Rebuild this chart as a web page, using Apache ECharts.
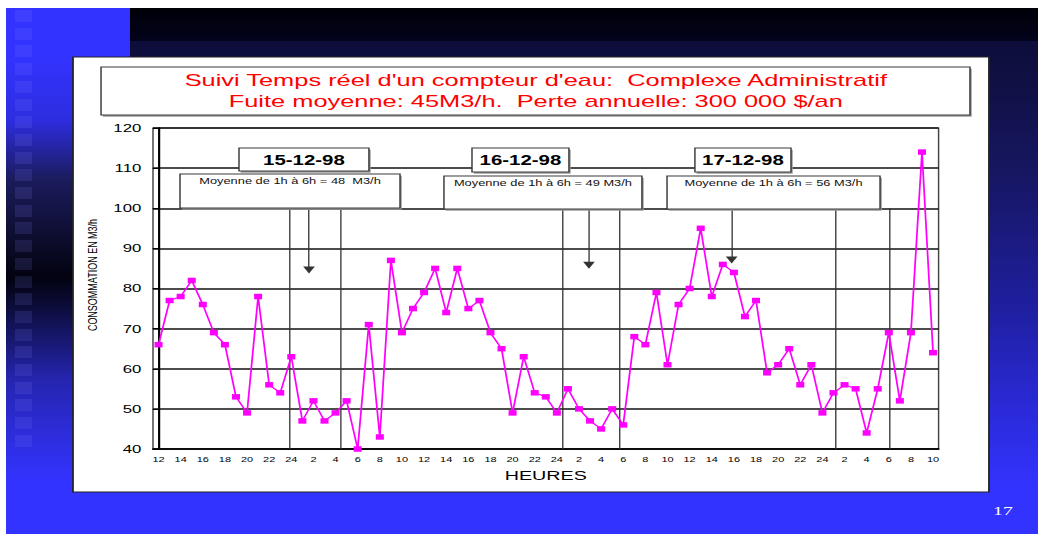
<!DOCTYPE html>
<html>
<head>
<meta charset="utf-8">
<script src="https://cdn.jsdelivr.net/npm/echarts@6/dist/echarts.min.js"></script>
<style>
  html, body { margin: 0; padding: 0; background: #fff; }
  body { width: 1038px; height: 534px; position: relative; overflow: hidden; }
  .bg { position: absolute; }
  #slide { left: 6px; top: 8px; width: 1032px; height: 526px;
    background: linear-gradient(180deg, #0c0c36 0px, #0f0f40 60px, #161660 160px, #1f1fa0 300px, #2a2ad8 400px, #3333ff 480px); }
  #topband { left: 130px; top: 8px; right: 0; height: 33px; background: linear-gradient(180deg, #000008, #03031c); }
  #corner { left: 6px; top: 8px; width: 124px; height: 49px; background: #3333ff; }
  #leftstrip { left: 6px; top: 57px; width: 67px; bottom: 0;
    background: linear-gradient(180deg, #3333ff 0px, #2d2de0 63px, #1b1b5c 123px, #0a0a25 193px, #020210 220px, #0a0a30 243px, #2525b0 323px, #3333ff 423px); }
  #squares { left: 15px; top: 10px; width: 17px; height: 440px;
    background: repeating-linear-gradient(180deg, rgba(130,130,255,0.14) 0 12px, rgba(0,0,0,0) 12px 17.7px); }
  #chart { position: absolute; left: 0; top: 0; width: 711px; height: 534px;
    transform: scaleX(1.45992); transform-origin: 0 0; }
</style>
</head>
<body>
<div class="bg" id="slide"></div>
<div class="bg" id="topband"></div>
<div class="bg" id="corner"></div>
<div class="bg" id="leftstrip"></div>
<div class="bg" id="squares"></div>
<div id="chart"></div>
<script>
// hour of day for each reading (12h on 15-12 to 10h on 18-12)
const hours = [12, 13, 14, 15, 16, 17, 18, 19, 20, 21, 22, 23, 24,
  1, 2, 3, 4, 5, 6, 7, 8, 9, 10, 11, 12, 13, 14, 15, 16, 17, 18, 19, 20, 21, 22, 23, 24,
  1, 2, 3, 4, 5, 6, 7, 8, 9, 10, 11, 12, 13, 14, 15, 16, 17, 18, 19, 20, 21, 22, 23, 24,
  1, 2, 3, 4, 5, 6, 7, 8, 9, 10]

// consommation m3/h
const day15 = [66, 77, 78, 82, 76, 69, 66, 53, 49, 78, 56, 54, 63]
const day16 = [47, 52, 47, 49, 52, 40, 71, 43, 87, 69, 75, 79, 85, 74, 85, 75, 77, 69, 65, 49, 63, 54, 53, 49]
const day17 = [55, 50, 47, 45, 50, 46, 68, 66, 79, 61, 76, 80, 95, 78, 86, 84, 73, 77, 59, 61, 65, 56, 61, 49]
const day18 = [54, 56, 55, 44, 55, 69, 52, 69, 114, 64]
const consommation = [...day15, ...day16, ...day17, ...day18]

const yMin = 40
const yMax = 120
const yStep = 10

const titleLines = [
  "Suivi Temps réel d'un compteur d'eau:  Complexe Administratif",
  "Fuite moyenne: 45M3/h.  Perte annuelle: 300 000 $/an"
]
const yName = 'CONSOMMATION EN M3/h'
const dates = ['15-12-98', '16-12-98', '17-12-98']
const moyenneLabels = [
  'Moyenne de 1h à 6h = 48  M3/h',
  'Moyenne de 1h à 6h = 49 M3/h',
  'Moyenne de 1h à 6h = 56 M3/h'
]
// night window markers, as position on the hour index
const nightStart = [11.8, 36.5, 61.2]
const nightEnd = [16.4, 41.6, 66.0]
const arrowAt = [13.6, 38.9, 51.8]
const arrowTip = [83.7, 84.9, 86.2]

// box layout (px, before horizontal stretch)
const dateBoxes = [[163.7, 148, 89, 23], [323.3, 148, 66.4, 24], [476, 148, 65.8, 24]]
const moyBoxes = [[123.3, 174, 150.7, 34], [304.1, 176, 135.6, 33], [456.9, 176, 145.9, 33]]

const FONT = '"Liberation Sans", Arial, sans-serif'

function box(x, y, w, h, z) {
  return [{
    type: 'rect', z: z, silent: true,
    shape: { x: x + 1.2, y: y + 1.8, width: w, height: h },
    style: { fill: '#9a9a9a' }
  }, {
    type: 'rect', z: z + 1, silent: true,
    shape: { x: x, y: y, width: w, height: h },
    style: { fill: '#fff', stroke: '#3a3a3a', lineWidth: 1 }
  }]
}

const elements = [
  { type: 'rect', z: -10, silent: true, shape: { x: 50, y: 57, width: 627.4, height: 435 },
    style: { fill: '#fff', stroke: '#222', lineWidth: 1.2 } },
  ...box(69.2, 67, 595.2, 48, 10),
  ...titleLines.map((t, i) => ({
    type: 'text', z: 12, x: 367, y: 80.5 + i * 20.5, silent: true,
    style: { text: t, fill: '#ff0000', font: '17.4px ' + FONT, align: 'center', verticalAlign: 'middle' }
  })),
  {
    type: 'text', z: 12, x: 63, y: 275, rotation: Math.PI / 2, silent: true,
    style: { text: yName, fill: '#000', font: '9px ' + FONT, align: 'center', verticalAlign: 'middle' }
  },
  {
    type: 'text', z: 12, x: 687, y: 511, silent: true,
    style: { text: '17', fill: '#fff', font: '13.5px "Liberation Serif", serif', align: 'center', verticalAlign: 'middle' }
  }
]
dates.forEach((d, i) => {
  const [x, y, w, h] = dateBoxes[i]
  elements.push(...box(x, y, w, h, 20))
  elements.push({ type: 'text', z: 22, x: x + w / 2, y: y + h / 2 + 0.5, silent: true,
    style: { text: d, fill: '#000', font: 'bold 14px ' + FONT, align: 'center', verticalAlign: 'middle' } })
})
moyenneLabels.forEach((t, i) => {
  const [x, y, w, h] = moyBoxes[i]
  elements.push(...box(x, y, w, h, 20))
  elements.push({ type: 'text', z: 22, x: x + w / 2, y: y + 7, silent: true,
    style: { text: t, fill: '#111', font: '8.8px ' + FONT, align: 'center', verticalAlign: 'middle' } })
})

const markData = []
nightStart.forEach((v, i) => {
  markData.push([{ coord: [v, 100] }, { coord: [v, yMin] }])
  markData.push([{ coord: [nightEnd[i], 100] }, { coord: [nightEnd[i], yMin] }])
  markData.push([{ coord: [arrowAt[i], 100], symbol: 'none' },
    { coord: [arrowAt[i], arrowTip[i] + 0.9], symbol: 'triangle', symbolSize: [8, 7] }])
})

const myChart = echarts.init(document.getElementById('chart'), null, { renderer: 'svg', width: 711, height: 534 })
myChart.setOption({
  animation: false,
  textStyle: { fontFamily: FONT },
  graphic: { elements: elements },
  grid: {
    left: 104.8,
    right: 68.1,
    top: 128,
    bottom: 85,
    show: true,
    borderColor: '#444',
    borderWidth: 1,
    backgroundColor: 'rgba(0,0,0,0)',
    outerBoundsMode: 'none'
  },
  xAxis: [{
    type: 'category',
    data: hours.map(String),
    boundaryGap: true,
    name: 'HEURES',
    nameLocation: 'middle',
    nameGap: 20,
    nameTextStyle: { fontSize: 13.5, color: '#000' },
    axisLine: { lineStyle: { color: '#000', width: 1.5 } },
    axisTick: { interval: 0, length: 4, lineStyle: { color: '#000' } },
    axisLabel: { interval: 1, fontSize: 7.5, color: '#000', margin: 7 },
    splitLine: { show: false }
  }, {
    type: 'value',
    show: false,
    min: -0.5,
    max: hours.length - 0.5
  }],
  yAxis: [{
    type: 'value',
    min: yMin,
    max: yMax,
    interval: yStep,
    axisLine: { show: true, lineStyle: { color: '#000', width: 1.5 } },
    axisTick: { show: true, length: 4, lineStyle: { color: '#000' } },
    axisLabel: { fontSize: 11.5, color: '#000', margin: 8 },
    splitLine: { show: true, lineStyle: { color: '#111', width: 1.6 } }
  }],
  series: [{
    name: 'Consommation',
    type: 'line',
    data: consommation,
    symbol: 'rect',
    symbolSize: [5.5, 5.5],
    showSymbol: true,
    showAllSymbol: true,
    lineStyle: { color: '#ff00ff', width: 1.2 },
    itemStyle: { color: '#ff00ff' },
    z: 5
  }, {
    name: 'reperes',
    type: 'line',
    xAxisIndex: 1,
    yAxisIndex: 0,
    data: [],
    silent: true,
    markLine: {
      silent: true,
      symbol: 'none',
      label: { show: false },
      lineStyle: { color: '#333', width: 0.9, type: 'solid' },
      emphasis: { disabled: true },
      data: markData
    }
  }]
})
window.addEventListener('resize', () => { myChart.resize() })
</script>
</body>
</html>
